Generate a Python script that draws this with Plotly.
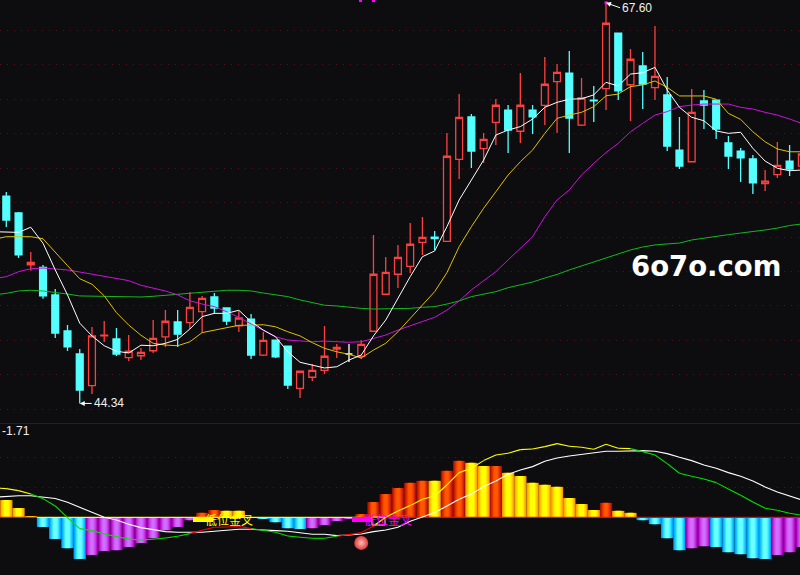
# Candlestick chart with moving averages and MACD pane
import plotly.graph_objects as go
from plotly.subplots import make_subplots

# Candles, first visible day is index 0
open_ = [56.38,55.40,52.39,52.24,50.64,48.55,47.21,45.37,48.27,48.08,47.00,47.11,47.40,48.21,49.07,49.03,49.67,50.52,49.88,48.84,
         49.24,47.15,48.02,47.67,45.22,45.86,46.26,47.50,47.21,47.08,48.53,50.68,51.84,52.30,53.69,54.00,53.75,58.51,60.97,59.13,
         60.66,61.37,60.14,61.37,61.64,63.02,63.52,60.50,61.95,62.61,65.84,62.84,63.93,62.67,62.25,59.05,58.37,61.90,61.95,59.46,
         58.99,58.53,57.10,57.62,58.41,58.12]
high = [56.61,55.45,53.13,52.38,50.98,48.89,47.50,48.78,49.13,48.72,48.31,47.56,49.18,49.76,49.76,50.81,50.58,50.75,49.88,49.71,
        49.53,48.49,48.02,47.67,46.22,46.63,48.84,47.79,47.79,48.02,54.12,52.84,53.54,54.81,55.16,54.35,60.04,62.30,61.14,60.04,
        62.01,61.66,63.52,61.66,64.45,64.04,64.80,63.23,62.77,67.60,65.84,64.92,64.74,66.25,63.29,60.97,62.59,62.54,61.95,59.87,
        59.17,58.76,57.89,59.52,59.34,59.28]
low = [54.58,52.78,52.05,50.42,48.14,47.38,44.34,44.89,47.91,47.09,46.80,46.86,47.27,47.62,47.62,48.66,48.43,49.53,48.89,48.49,
       46.92,47.09,46.98,45.18,44.66,45.64,46.05,46.98,46.75,46.92,48.53,50.68,51.04,51.91,52.96,53.25,53.75,57.37,58.01,58.30,
       59.34,58.88,59.46,59.98,60.50,60.04,58.88,60.45,60.68,61.37,61.96,60.74,61.43,61.96,58.99,57.95,58.36,60.27,59.69,57.95,
       57.19,56.50,56.67,57.43,57.54,57.77]
close = [54.99,52.96,52.53,50.58,48.43,47.62,45.12,48.26,48.30,47.21,47.37,47.31,48.12,49.11,48.37,49.92,50.44,49.88,49.12,49.30,
         47.15,48.00,47.04,45.41,46.21,46.26,47.08,47.59,47.21,47.77,51.84,51.95,52.82,53.58,53.98,53.91,58.69,60.95,58.99,59.67,
         61.65,60.21,61.65,60.97,62.87,63.56,60.91,62.07,61.91,66.41,62.48,64.32,62.88,63.33,59.28,58.12,61.24,61.66,60.27,58.70,
         58.59,57.14,57.24,58.16,57.95,58.82]
flat_day = 28

# Moving averages, these start one day before the first candle
line_days = list(range(-1, 66))
ma5 = [54.31,54.31,54.27,54.57,53.64,52.09,50.64,49.00,48.26,47.69,47.37,47.27,47.72,47.69,47.83,48.06,48.66,49.38,49.57,49.57,
       49.75,49.09,48.60,48.21,47.34,46.73,46.57,46.40,46.47,46.86,47.15,48.26,49.18,50.44,51.70,52.86,53.19,54.60,56.15,57.31,
       58.47,59.92,60.21,60.41,60.85,61.53,61.82,62.00,62.03,62.25,62.98,62.77,63.46,63.54,63.85,62.54,61.53,60.95,60.75,60.16,
       60.02,60.08,59.15,58.41,57.99,57.85,57.89]
ma10 = [53.87,54.02,54.02,54.02,53.90,53.15,52.34,51.58,51.26,50.59,49.61,48.89,48.30,47.83,47.73,47.69,47.92,48.45,48.59,48.74,
        48.88,48.88,48.91,48.79,48.50,48.26,47.87,47.54,47.34,47.19,46.98,47.44,47.83,48.50,49.28,50.05,50.83,51.93,53.44,54.60,
        55.67,56.63,57.60,58.37,59.05,60.02,60.89,61.08,61.24,61.57,62.20,62.30,62.73,62.83,63.06,62.69,62.19,62.19,62.19,62.00,
        61.18,60.83,60.11,59.53,59.11,58.95,58.95]
ma20 = [51.58,51.70,51.99,52.16,52.20,52.14,52.09,51.97,51.85,51.74,51.60,51.47,51.20,51.02,50.87,50.64,50.30,50.11,49.96,49.67,
        49.34,48.95,48.60,48.21,48.02,47.96,47.92,47.96,47.92,47.89,47.92,48.12,48.31,48.60,48.85,49.09,49.34,49.76,50.29,50.93,
        51.45,51.99,52.67,53.35,54.02,55.18,56.15,56.73,57.60,58.28,58.90,59.44,60.11,60.60,61.08,61.28,61.57,61.66,61.72,61.72,
        61.72,61.53,61.43,61.24,61.08,60.85,60.60]
ma60 = [50.64,50.73,50.87,50.91,50.87,50.79,50.69,50.58,50.56,50.54,50.52,50.50,50.52,50.56,50.62,50.68,50.75,50.81,50.85,50.91,
        50.91,50.87,50.75,50.64,50.54,50.35,50.19,50.04,50.00,49.92,49.86,49.82,49.82,49.84,49.86,49.92,49.96,50.11,50.29,50.54,
        50.69,50.83,51.06,51.22,51.39,51.62,51.83,52.09,52.32,52.55,52.78,53.04,53.25,53.42,53.54,53.60,53.65,53.83,53.94,54.06,
        54.14,54.23,54.31,54.41,54.52,54.67,54.76]

# MACD pane
macd_hist = [.43,.23,.03,-.24,-.54,-.77,-1.04,-.94,-.84,-.82,-.74,-.64,-.52,-.32,-.24,-.07,.11,.18,.16,.16,
             0,-.04,-.12,-.27,-.29,-.27,-.19,-.09,-.04,.08,.38,.58,.73,.86,.91,.91,1.16,1.41,1.36,1.28,
             1.28,1.11,1.03,.86,.81,.76,.48,.33,.18,.36,.16,.11,-.07,-.17,-.52,-.82,-.77,-.72,-.74,-.87,
             -.92,-1.02,-1.04,-.94,-.87,-.74]
hist_kind = list("YYYCCCCPPPPPPPPPRRYYYCCCCPPPPRRRRRRYRRYYRYYYYYYYYRYYCCCCPPCCCCCPPP")
dif = [.733,.717,.667,.583,.467,.283,-.008,-.283,-.333,-.417,-.483,-.542,-.567,-.55,-.517,-.475,-.408,-.325,-.25,-.242,
       -.225,-.283,-.325,-.375,-.467,-.50,-.525,-.525,-.475,-.433,-.383,-.217,0,.158,.292,.45,.533,.808,1.117,1.225,
       1.417,1.558,1.60,1.692,1.708,1.767,1.842,1.775,1.75,1.70,1.825,1.725,1.717,1.642,1.558,1.342,1.10,1.025,.958,.867,
       .708,.55,.383,.225,.175,.10,.05]
dea = [.50,.525,.54,.54,.51,.47,.375,.25,.125,0,-.067,-.175,-.258,-.308,-.358,-.375,-.383,-.375,-.35,-.325,
       -.30,-.30,-.308,-.333,-.35,-.392,-.425,-.425,-.458,-.442,-.417,-.358,-.317,-.25,-.10,.008,.117,.283,.45,.583,
       .767,.908,1.075,1.183,1.267,1.40,1.483,1.533,1.575,1.60,1.65,1.65,1.667,1.667,1.65,1.592,1.50,1.417,1.308,1.225,
       1.117,1.025,.908,.758,.633,.533,.433]
signal_day = [29]
signal_value = [-.64]

BG = "#0d0d10"
RED = "#ff4040"
CYAN = "#54ffff"

fig = make_subplots(rows=2, cols=1, shared_xaxes=True)

# Candles
days = [d for d in range(66) if d != flat_day]
fig.add_trace(go.Candlestick(
    x=days,
    open=[open_[d] for d in days], high=[high[d] for d in days],
    low=[low[d] for d in days], close=[close[d] for d in days],
    increasing=dict(line=dict(color=RED, width=1.3), fillcolor=BG),
    decreasing=dict(line=dict(color=CYAN, width=1.3), fillcolor=CYAN),
    whiskerwidth=0), row=1, col=1)
fig.add_trace(go.Candlestick(
    x=[flat_day, flat_day + 1000], open=[open_[flat_day], 0], high=[high[flat_day], 0],
    low=[low[flat_day], 0], close=[close[flat_day], 0],
    increasing=dict(line=dict(color="white", width=1.3), fillcolor="white"),
    decreasing=dict(line=dict(color="white", width=1.3), fillcolor="white"),
    whiskerwidth=0), row=1, col=1)

for values, color, w in [(ma60, "#12b81e", 1), (ma20, "#c814d8", 1), (ma10, "#e0c000", 1), (ma5, "#ffffff", 1)]:
    fig.add_trace(go.Scatter(x=line_days, y=values, mode="lines", line=dict(color=color, width=w)), row=1, col=1)

# High point marker
fig.add_trace(go.Scatter(x=[49], y=[67.6], mode="markers",
                         marker=dict(symbol="square", size=3, color="#ff00ff")), row=1, col=1)

# MACD bars, each kind is stacked from wide dark to narrow bright to look like the gradient
bar_steps = {
    "R": ["#a81000", "#d02400", "#e83800", "#ff5000", "#ff5a00"],
    "Y": ["#ff9c00", "#ffc000", "#ffe400", "#ffff00", "#ffff00"],
    "C": ["#00a4ff", "#1cc4ff", "#3ce4ff", "#5cffff", "#70ffff"],
    "P": ["#a000b4", "#bc20cc", "#cc44e8", "#cc60ff", "#d070ff"],
}
bar_widths = [1.0, .8, .6, .4, .2]
for kind, colors in bar_steps.items():
    xs = [d for d in range(66) if hist_kind[d] == kind]
    ys = [macd_hist[d] for d in xs]
    for color, w in zip(colors, bar_widths):
        fig.add_trace(go.Bar(x=xs, y=ys, width=w, marker=dict(color=color, line=dict(width=0))), row=2, col=1)

# Zero line changes colour along the way
fig.add_trace(go.Scatter(x=[-1, 2.5], y=[0, 0], mode="lines", line=dict(color="#ff0000", width=1.2)), row=2, col=1)
fig.add_trace(go.Scatter(x=[2.5, 29], y=[0, 0], mode="lines", line=dict(color="#ffff00", width=1.2)), row=2, col=1)
fig.add_trace(go.Scatter(x=[29, 66], y=[0, 0], mode="lines", line=dict(color="#ff0000", width=1.2)), row=2, col=1)

# DIF colour depends on where it sits against DEA and zero
dif_parts = {"#ffff00": ([], []), "#ff0000": ([], []), "#00e000": ([], [])}
for n in range(1, len(dif)):
    if dif[n] > dea[n]:
        c = "#ffff00" if dif[n] >= 0 else "#ff0000"
    else:
        c = "#00e000"
    dif_parts[c][0].extend([line_days[n - 1], line_days[n], None])
    dif_parts[c][1].extend([dif[n - 1], dif[n], None])
fig.add_trace(go.Scatter(x=line_days, y=dea, mode="lines", line=dict(color="white", width=1.1)), row=2, col=1)
for c, (xs, ys) in dif_parts.items():
    fig.add_trace(go.Scatter(x=xs, y=ys, mode="lines", line=dict(color=c, width=1.1)), row=2, col=1)

fig.add_trace(go.Scatter(x=signal_day, y=signal_value, mode="markers",
                         marker=dict(size=14, color="#e03838", gradient=dict(type="radial", color="#f8c0b8"))),
              row=2, col=1)


def px_rect(x0, y0, x1, y1, color):
    fig.add_shape(type="rect", xref="paper", yref="paper", x0=x0 / 800, x1=x1 / 800,
                  y0=1 - y0 / 575, y1=1 - y1 / 575, fillcolor=color, line=dict(width=0))


px_rect(193, 517, 213, 522, "#ffff00")
px_rect(352, 517, 371, 522, "#ff00ff")
px_rect(359, 0, 362, 2, "#ff00ff")
px_rect(372, 0, 375, 2, "#ff00ff")
fig.add_shape(type="rect", xref="paper", yref="paper", x0=372 / 800, x1=385 / 800, y0=1 - 517 / 575, y1=1 - 525 / 575,
              line=dict(color="#ffff00", width=1))
fig.add_shape(type="line", xref="paper", yref="paper", x0=0, x1=1, y0=1 - 423.5 / 575, y1=1 - 423.5 / 575,
              line=dict(color="#5a0808", width=1))

num_font = dict(family="Liberation Sans", size=12, color="#f0f0f0")
fig.add_annotation(x=49, y=67.6, ax=14, ay=5, text="67.60", xanchor="left", showarrow=True, arrowhead=2,
                   arrowsize=1, arrowwidth=1, arrowcolor="white", font=num_font, xref="x", yref="y")
fig.add_annotation(x=6, y=44.34, ax=12, ay=0, text="44.34", xanchor="left", showarrow=True, arrowhead=2,
                   arrowsize=1, arrowwidth=1, arrowcolor="white", font=num_font, xref="x", yref="y")
fig.add_annotation(xref="paper", yref="paper", x=0, y=1 - 431 / 575, text="-1.71", showarrow=False,
                   xanchor="left", yanchor="middle", font=num_font)
fig.add_annotation(xref="paper", yref="paper", x=629 / 800, y=1 - 266 / 575, text="<b>6o7o.com</b>", showarrow=False,
                   xanchor="left", yanchor="middle", font=dict(family="DejaVu Sans", size=27.5, color="white"))
fig.add_annotation(xref="paper", yref="paper", x=229 / 800, y=1 - 519 / 575, text="低位金叉", showarrow=False,
                   xanchor="center", yanchor="middle", font=dict(family="Noto Sans CJK SC", size=12, color="#ffff00"))
fig.add_annotation(xref="paper", yref="paper", x=388 / 800, y=1 - 519 / 575, text="低位金叉", showarrow=False,
                   xanchor="center", yanchor="middle", font=dict(family="Noto Sans CJK SC", size=12, color="#ff00ff"))

fig.update_xaxes(range=[-0.515, 64.85], visible=False, rangeslider=dict(visible=False))
grid = dict(showgrid=True, gridcolor="#5a1212", griddash="1px,6px", gridwidth=1, zeroline=False,
            showticklabels=False, ticks="", showline=False)
fig.update_yaxes(range=[43.379, 67.76], domain=[1 - 420 / 575, 1], tickvals=list(range(44, 67, 2)), row=1, col=1, **grid)
fig.update_yaxes(range=[-1.4425, 2.3325], domain=[0, 1 - 424 / 575], tickvals=[.75, 1.5], row=2, col=1, **grid)

fig.update_layout(width=800, height=575, margin=dict(l=0, r=0, t=0, b=0), showlegend=False,
                  paper_bgcolor=BG, plot_bgcolor=BG, barmode="overlay", boxgap=.2)

fig.write_html("out.html", config=dict(displayModeBar=False),
               post_script="document.body.style.margin='0';document.body.style.overflow='hidden';")
